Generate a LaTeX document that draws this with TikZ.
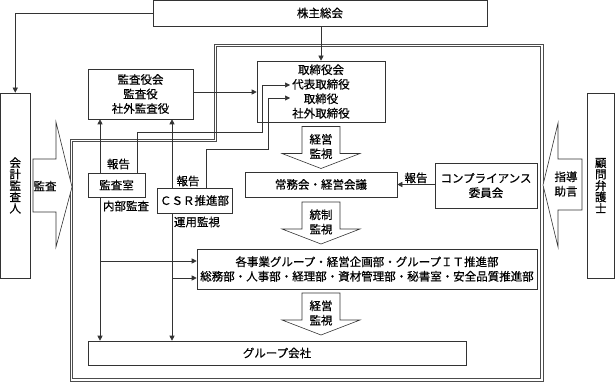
\documentclass[tikz,border=0pt]{standalone}
\usepackage{fontspec}
\usepackage{tikz}
\usetikzlibrary{arrows.meta, positioning}
\newfontfamily\jpfont[FakeBold=0.5]{Noto Sans CJK JP}
\newcommand\jpsize{\fontsize{11.5}{14.5}\selectfont}
\newcommand\jpvert{\fontsize{11.5}{11.4}\selectfont}
\definecolor{linegray}{rgb}{0.2, 0.2, 0.2}

\begin{document}
\begin{tikzpicture}[
    x=1pt, y=-1pt,
    box/.style={rectangle, draw=linegray, line width=0.6pt, fill=white, inner sep=1pt, align=center, font=\jpfont\jpsize},
    vbox/.style={box, font=\jpfont\jpvert},
    lbl/.style={inner sep=0pt, align=center, font=\jpfont\jpsize},
    arrow/.style={-{Triangle[length=5pt, width=5pt]}, line width=0.6pt, draw=linegray},
    callout/.style={draw=linegray, line width=0.6pt, fill=white},
    frame/.style={draw=black!70, line width=0.8pt},
]
\useasboundingbox (0,0) rectangle (615,382);

% Company frame (double line)
\draw[frame] (70,139) -- (214,139) -- (214,44) -- (543,44) -- (543,381) -- (70,381) -- cycle;
\draw[frame] (72.5,141.5) -- (216.5,141.5) -- (216.5,46.5) -- (540.5,46.5) -- (540.5,378.5) -- (72.5,378.5) -- cycle;

% Nodes
\node[box, minimum width=334, minimum height=26] (holders) at (320,13) {株主総会};
\node[vbox, minimum width=29.5, minimum height=185] (auditor) at (15.25,185.5) {会\\計\\監\\査\\人};
\node[vbox, minimum width=27.5, minimum height=185] (lawyer) at (600.75,185.5) {顧\\問\\弁\\護\\士};
\node[box, minimum width=105, minimum height=50] (kansa) at (140.5,94) {監査役会\\監査役\\社外監査役};
\node[box, minimum width=128, minimum height=61] (board) at (321,91.5) {取締役会\\代表取締役\\取締役\\社外取締役};
\node[box, minimum width=152, minimum height=25] (jomu) at (321,184.5) {常務会・経営会議};
\node[box, minimum width=102, minimum height=45] (comp) at (486,185.5) {コンプライアンス\\委員会};
\node[box, minimum width=340, minimum height=40] (biz) at (367,269) {各事業グループ・経営企画部・グループＩＴ推進部\\総務部・人事部・経理部・資材管理部・秘書室・安全品質推進部};
\node[box, minimum width=378, minimum height=24] (group) at (277,353) {グループ会社};
\node[box, minimum width=57, minimum height=24] (office) at (116.5,185) {監査室};
\node[box, minimum width=75, minimum height=25] (csr) at (194.5,200.5) {ＣＳＲ推進部};

% Callouts
\draw[callout] (33,159) -- (56,159) -- (56,122) -- (72,187) -- (56,247) -- (56,212) -- (33,212) -- cycle;
\node[lbl] (audit) at (45,186) {監査};
\draw[callout] (582,159) -- (558,159) -- (558,123) -- (543,185) -- (558,247) -- (558,210) -- (582,210) -- cycle;
\node[lbl] (advice) at (566,184) {指導\\助言};

% Flow arrows
\foreach \t/\txt [count=\i] in {126.5/{経営\\監視}, 202/{統制\\監視}, 293/{経営\\監視}} {
  \draw[callout] (302,\t) -- (340,\t) -- (340,\t+27) -- (360,\t+27) -- (321,\t+42) -- (282,\t+27) -- (302,\t+27) -- cycle;
  \node[lbl] (flow\i) at (321,\t+20) {\txt};
}

% Coordinates
\coordinate (ia) at (100,261);
\coordinate (cb) at (172,278);
\coordinate (kb1) at (137,132);
\coordinate (kb2) at (262,132);
\coordinate (dai) at (290,85);
\coordinate (cs1) at (206,149);
\coordinate (cs2) at (268,149);
\coordinate (tori) at (290,98);

% Arrows
\draw[arrow] (holders.west) -| (auditor.north);
\draw[arrow] (holders.south -| board.north) -- (board.north);
\draw[arrow] (kansa.east |- 0,92) -- (board.west |- 0,92);
\draw[arrow] (office.north -| ia) -- (kansa.south -| ia);
\draw[arrow] (csr.north -| cb) -- (kansa.south -| cb);
\draw[arrow] (office.north -| kb1) -- (kb1) -- (kb2) |- (dai);
\draw[arrow] (csr.north -| cs1) -- (cs1) -- (cs2) |- (tori);
\draw[arrow] (office.south -| ia) -- (group.north -| ia);
\draw[arrow] (csr.south -| cb) -- (group.north -| cb);
\draw[arrow] (ia) -- (ia -| biz.west);
\draw[arrow] (cb) -- (cb -| biz.west);
\draw[arrow] (comp.west |- jomu.east) -- node[above=1pt, lbl] {報告} (jomu.east);

% Labels
\node[lbl] (rep1) at (118.5,164) {報告};
\node[lbl] (rep2) at (188,181) {報告};
\node[lbl] (inner) at (126,206) {内部監査};
\node[lbl] (ops) at (197,222) {運用監視};

\end{tikzpicture}
\end{document}
